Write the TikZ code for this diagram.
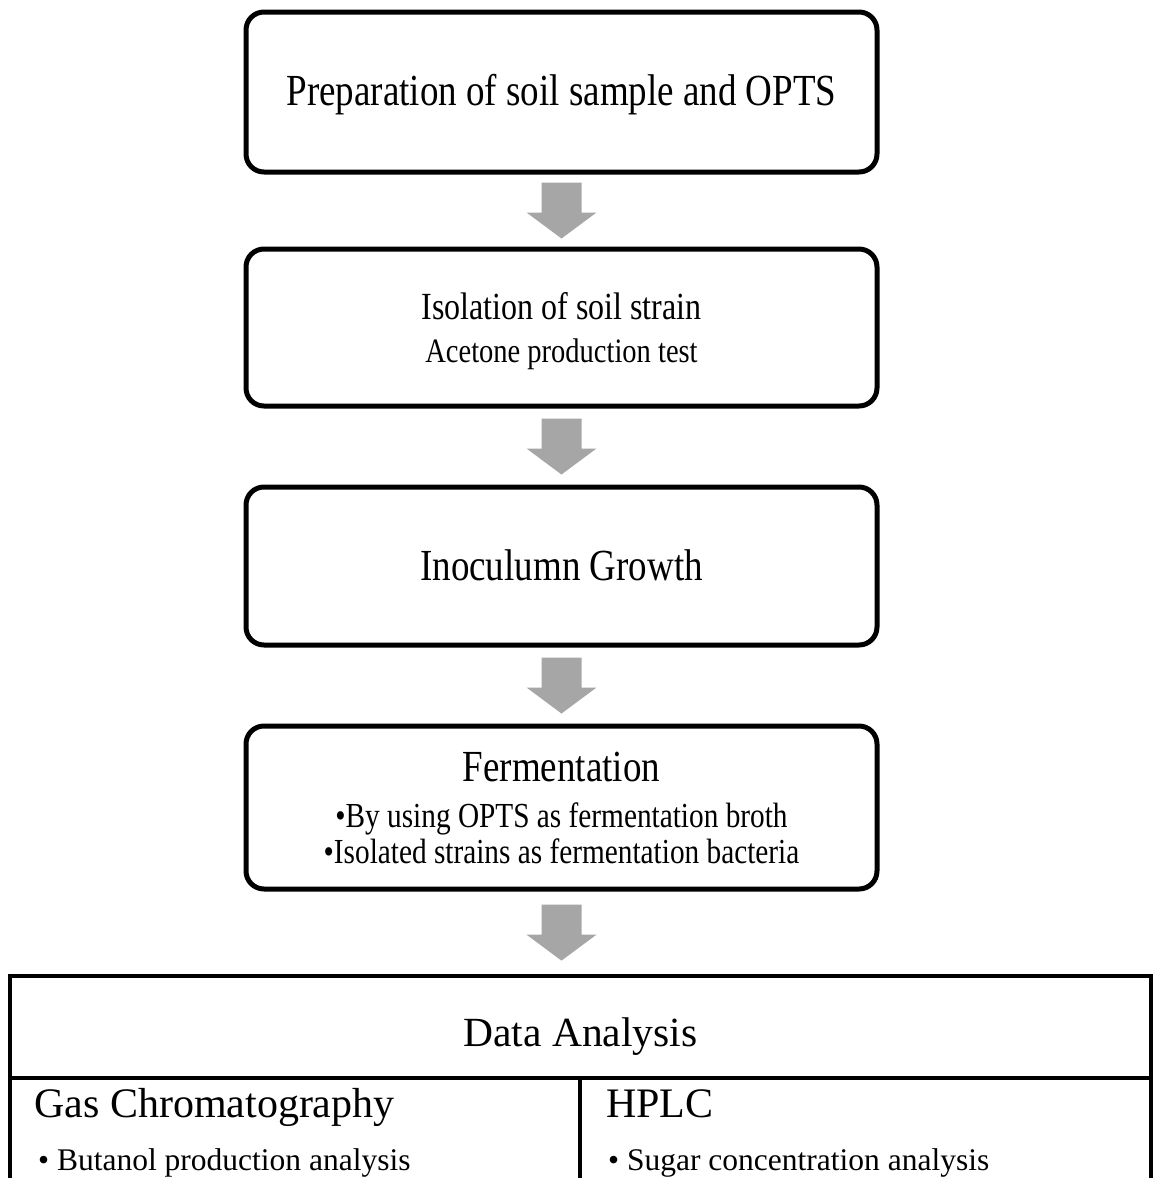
\documentclass[tikz,border=0pt]{standalone}
\usepackage{fontspec}
\usepackage{graphicx}
\setmainfont{Liberation Serif}
\usetikzlibrary{calc}
\definecolor{arrowgray}{HTML}{A6A6A6}
\newcommand{\vstretch}[1]{\scalebox{1}[1.2]{#1}}
\tikzset{
  stepbox/.style={draw=black, line width=5pt, rounded corners=18pt, minimum width=631pt, inner sep=0pt, fill=white},
  cellbox/.style={draw=black, line width=4.5pt, inner sep=0pt},
  txt/.style={anchor=base, inner sep=0pt},
  ltxt/.style={anchor=base west, inner sep=0pt},
  pics/downarrow/.style={code={
    \fill[arrowgray] (-20,-28) -- (20,-28) -- (20,2) -- (35,2) -- (0,28) -- (-35,2) -- (-20,2) -- cycle;
  }}
}
\begin{document}
\begin{tikzpicture}[x=1pt,y=-1pt]
\useasboundingbox (0,0) rectangle (1155,1178);
\clip (0,0) rectangle (1155,1178);
\fill[white] (0,0) rectangle (1155,1178);

% step boxes
\node[stepbox, minimum height=160pt] (b1) at (561.5,92) {};
\node[stepbox, minimum height=157pt] (b2) at (561.5,327.5) {};
\node[stepbox, minimum height=158pt] (b3) at (561.5,566) {};
\node[stepbox, minimum height=163pt] (b4) at (561.5,807.5) {};

% texts
\node[txt, font=\fontsize{37}{44}\selectfont] (t1) at (561.5,105) {\vstretch{Preparation of soil sample and OPTS}};
\node[txt, font=\fontsize{32}{38}\selectfont] (t2a) at (561.5,319) {\vstretch{Isolation of soil strain}};
\node[txt, font=\fontsize{28.5}{34}\selectfont] (t2b) at (561.5,362) {\vstretch{Acetone production test}};
\node[txt, font=\fontsize{37}{44}\selectfont] (t3) at (561.5,580) {\vstretch{Inoculumn Growth}};
\node[txt, font=\fontsize{37}{44}\selectfont] (t4a) at (561.5,781) {\vstretch{Fermentation}};
\node[txt, font=\fontsize{29.3}{34}\selectfont] (t4b) at (561.5,827) {\vstretch{•By using OPTS as fermentation broth}};
\node[txt, font=\fontsize{29.3}{34}\selectfont] (t4c) at (561.5,863) {\vstretch{•Isolated strains as fermentation bacteria}};

% table
\node[cellbox, minimum width=1141pt, minimum height=102pt] (da) at (580.5,1027) {};
\node[cellbox, minimum width=570pt, minimum height=130pt] (gc) at (295,1143) {};
\node[cellbox, minimum width=571pt, minimum height=130pt] (hp) at (865.5,1143) {};
\node[txt, font=\fontsize{41.5}{48}\selectfont] (dat) at (580.5,1046) {Data Analysis};
\node[ltxt, font=\fontsize{42}{48}\selectfont] (gct) at (34,1117) {Gas Chromatography};
\node[ltxt, font=\fontsize{42}{48}\selectfont] (hpt) at (606,1117) {HPLC};
\node[ltxt, font=\fontsize{31.5}{36}\selectfont] (gcb) at (38,1170) {• Butanol production analysis};
\node[ltxt, font=\fontsize{31.5}{36}\selectfont] (hpb) at (608,1170) {• Sugar concentration analysis};

% arrows
\pic at ($(b1.south)!0.5!(b2.north)$) {downarrow};
\pic at ($(b2.south)!0.5!(b3.north)$) {downarrow};
\pic at ($(b3.south)!0.5!(b4.north)$) {downarrow};
\pic at ($(b4.south)!0.5!(b4.south |- da.north)$) {downarrow};
\end{tikzpicture}
\end{document}
